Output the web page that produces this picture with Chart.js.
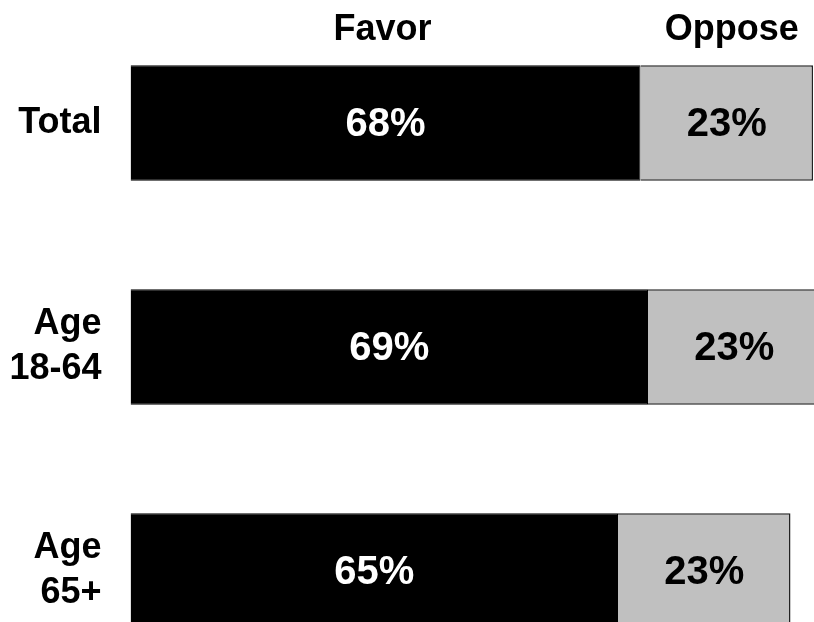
<!DOCTYPE html>
<html>
<head>
<meta charset="utf-8">
<script src="https://cdn.jsdelivr.net/npm/chart.js@4.4.1/dist/chart.umd.min.js"></script>
<style>
    html, body {
        margin: 0;
        padding: 0;
        background: #fff;
        overflow: hidden;
        width: 814px;
        height: 622px;
    }
</style>
</head>
<body>
<canvas id="chart" width="900" height="700"></canvas>
<script>
const groups = [['Total'], ['Age', '18-64'], ['Age', '65+']];
const seriesNames = ['Favor', 'Oppose'];
const favorValues = [68, 69, 65];
const opposeValues = [23, 23, 23];

const FONT = "'Liberation Sans', Arial, sans-serif";

// values written in the middle of each segment
const valueLabels = {
    id: 'valueLabels',
    afterDatasetsDraw(chart) {
        const ctx = chart.ctx;
        ctx.save();
        ctx.font = 'bold 40px ' + FONT;
        ctx.textAlign = 'center';
        ctx.textBaseline = 'middle';
        chart.data.datasets.forEach((ds, i) => {
            const meta = chart.getDatasetMeta(i);
            meta.data.forEach((bar, j) => {
                const x = (bar.base + bar.x) / 2;
                ctx.fillStyle = i === 0 ? '#fff' : '#000';
                ctx.fillText(ds.data[j] + '%', x, bar.y + 2);
            });
        });
        ctx.restore();
    }
};

// column headers above the first bar
const headers = {
    id: 'headers',
    afterDraw(chart) {
        const ctx = chart.ctx;
        ctx.save();
        ctx.font = 'bold 36px ' + FONT;
        ctx.textAlign = 'center';
        ctx.textBaseline = 'middle';
        ctx.fillStyle = '#000';
        chart.data.datasets.forEach((ds, i) => {
            const bar = chart.getDatasetMeta(i).data[0];
            const x = (bar.base + bar.x) / 2;
            ctx.fillText(ds.label, x + (i === 0 ? -3 : 5), chart.chartArea.top + 19);
        });
        ctx.restore();
    }
};

new Chart(document.getElementById('chart').getContext('2d'), {
    type: 'bar',
    data: {
        labels: groups,
        datasets: [{
            label: seriesNames[0],
            data: favorValues,
            backgroundColor: '#000000',
            borderColor: '#000000',
            borderWidth: 1,
            barPercentage: 0.515,
            categoryPercentage: 1
        }, {
            label: seriesNames[1],
            data: opposeValues,
            backgroundColor: '#c0c0c0',
            borderColor: '#222222',
            borderWidth: 1.5,
            barPercentage: 0.515,
            categoryPercentage: 1
        }]
    },
    options: {
        indexAxis: 'y',
        responsive: false,
        animation: false,
        layout: {
            padding: { left: 0, right: 19.5, top: 11, bottom: 17 }
        },
        plugins: {
            legend: { display: false },
            tooltip: { enabled: false }
        },
        scales: {
            x: {
                stacked: true,
                display: false,
                min: 0,
                max: 100
            },
            y: {
                stacked: true,
                border: { display: false },
                grid: { display: false, drawTicks: false },
                ticks: {
                    color: '#000',
                    padding: 29,
                    font: { family: FONT, size: 36, weight: 'bold', lineHeight: 1.25 }
                },
                afterFit(scale) {
                    scale.width = 130.5;
                    scale.paddingTop = 0;
                    scale.paddingBottom = 0;
                }
            }
        }
    },
    plugins: [valueLabels, headers]
});
</script>
</body>
</html>
